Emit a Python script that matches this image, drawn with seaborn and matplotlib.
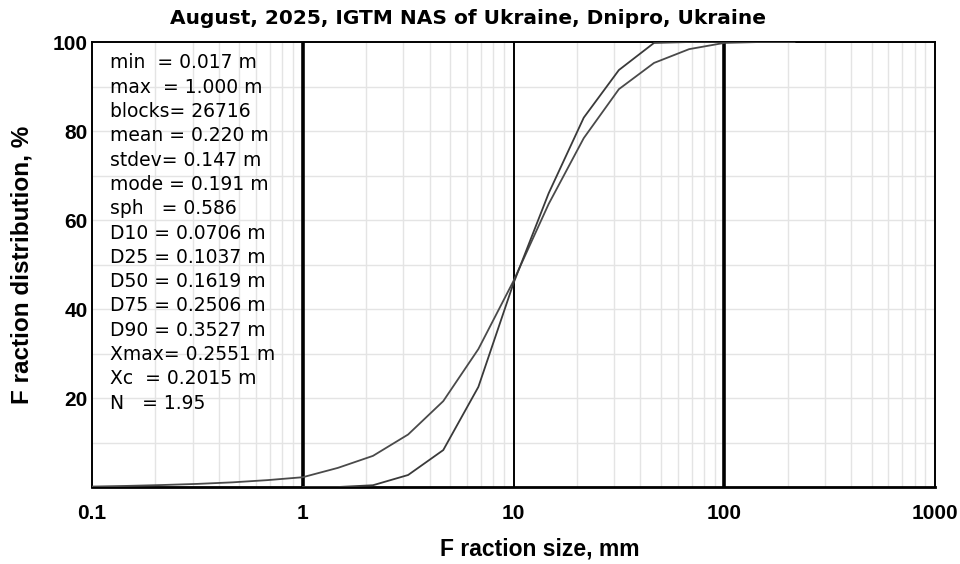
import numpy as np
import pandas as pd
import matplotlib
matplotlib.use('Agg')
import matplotlib.pyplot as plt
import seaborn as sns

# sieve sizes (mm) and cumulative passing (%)
size_a = [1.0, 1.468, 2.154, 3.162, 4.642, 6.813, 10.0, 14.68, 21.54, 31.62, 46.42, 68.13, 100.0, 146.8, 215.4]
pass_a = [0.0, 0.0, 0.4, 2.7, 8.3, 22.5, 45.8, 66.0, 83.0, 93.7, 99.8, 100.0, 100.0, 100.0, 100.0]

size_b = [0.1, 0.1468, 0.2154, 0.3162, 0.4642, 0.6813, 1.0, 1.468, 2.154, 3.162, 4.642, 6.813,
          10.0, 14.68, 21.54, 31.62, 46.42, 68.13, 100.0, 146.8, 215.4]
pass_b = [0.1, 0.25, 0.45, 0.7, 1.05, 1.55, 2.2, 4.3, 7.0, 11.8, 19.3, 31.0,
          46.3, 63.6, 78.4, 89.4, 95.3, 98.4, 99.8, 100.0, 100.0]

stats_lines = ['min  = 0.017 m', 'max  = 1.000 m', 'blocks= 26716', 'mean = 0.220 m',
               'stdev= 0.147 m', 'mode = 0.191 m', 'sph   = 0.586', 'D10 = 0.0706 m',
               'D25 = 0.1037 m', 'D50 = 0.1619 m', 'D75 = 0.2506 m', 'D90 = 0.3527 m',
               'Xmax= 0.2551 m', 'Xc  = 0.2015 m', 'N   = 1.95']

x_ticks = [0.1, 1, 10, 100, 1000]
x_ticklabels = ['0.1', '1', '10', '100', '1000']
y_ticks = [20, 40, 60, 80, 100]

sns.set_style('white')
plt.rcParams['font.family'] = ['Liberation Sans', 'DejaVu Sans']

fig = plt.figure(figsize=(9.6, 5.64), dpi=100)
ax = fig.add_axes([0.0958, 0.1365, 0.974 - 0.0958, 0.9255 - 0.1365])

df_a = pd.DataFrame({'size': size_a, 'passing': pass_a})
df_b = pd.DataFrame({'size': size_b, 'passing': pass_b})

ax.set_xscale('log')
ax.set_xlim(0.1, 1000)
ax.set_ylim(0, 100)

# light grid: minor verticals and 10% horizontals
for dec in [0.1, 1, 10, 100]:
    for m in range(2, 10):
        ax.axvline(dec * m, color='#e4e4e4', lw=1.0, zorder=0)
for yv in range(10, 100, 10):
    ax.axhline(yv, color='#e4e4e4', lw=1.0, zorder=0)

ax.axvline(1, color='black', lw=2.6, zorder=3)
ax.axvline(10, color='black', lw=1.4, zorder=3)
ax.axvline(100, color='black', lw=2.6, zorder=3)

sns.lineplot(data=df_b, x='size', y='passing', ax=ax, color='#4a4a4a', lw=1.3, zorder=4)
sns.lineplot(data=df_a, x='size', y='passing', ax=ax, color='#3a3a3a', lw=1.3, zorder=4)

for s in ax.spines.values():
    s.set_color('black')
    s.set_linewidth(1.4)
ax.spines['bottom'].set_linewidth(2.0)

ax.set_xticks(x_ticks)
ax.set_xticklabels(x_ticklabels)
ax.xaxis.set_minor_locator(matplotlib.ticker.NullLocator())
ax.set_yticks(y_ticks)
ax.tick_params(axis='both', length=0, labelsize=15, labelcolor='black')
ax.tick_params(axis='x', pad=12)
ax.tick_params(axis='y', pad=3)
for lab in ax.get_xticklabels() + ax.get_yticklabels():
    lab.set_fontweight('bold')

ax.set_xlabel('')
ax.set_ylabel('')
fig.text(0.5625, 0.027, 'F raction size, mm', ha='center', va='center', fontsize=16.5,
         fontweight='bold', color='black')
fig.text(0.023, 0.53, 'F raction distribution, %', ha='center', va='center', rotation=90,
         fontsize=17.5, fontweight='bold', color='black')
fig.text(0.487, 0.968, 'August, 2025, IGTM NAS of Ukraine, Dnipro, Ukraine', ha='center',
         va='center', fontsize=14.5, fontweight='bold', family='DejaVu Sans', color='black')

y0 = 0.953
for i, line in enumerate(stats_lines):
    ax.text(0.0215, y0 - i * 0.0546, line, transform=ax.transAxes, ha='left', va='center',
            fontsize=13.5, family='DejaVu Sans', color='black', zorder=5)

fig.savefig('out.png', dpi=100)
